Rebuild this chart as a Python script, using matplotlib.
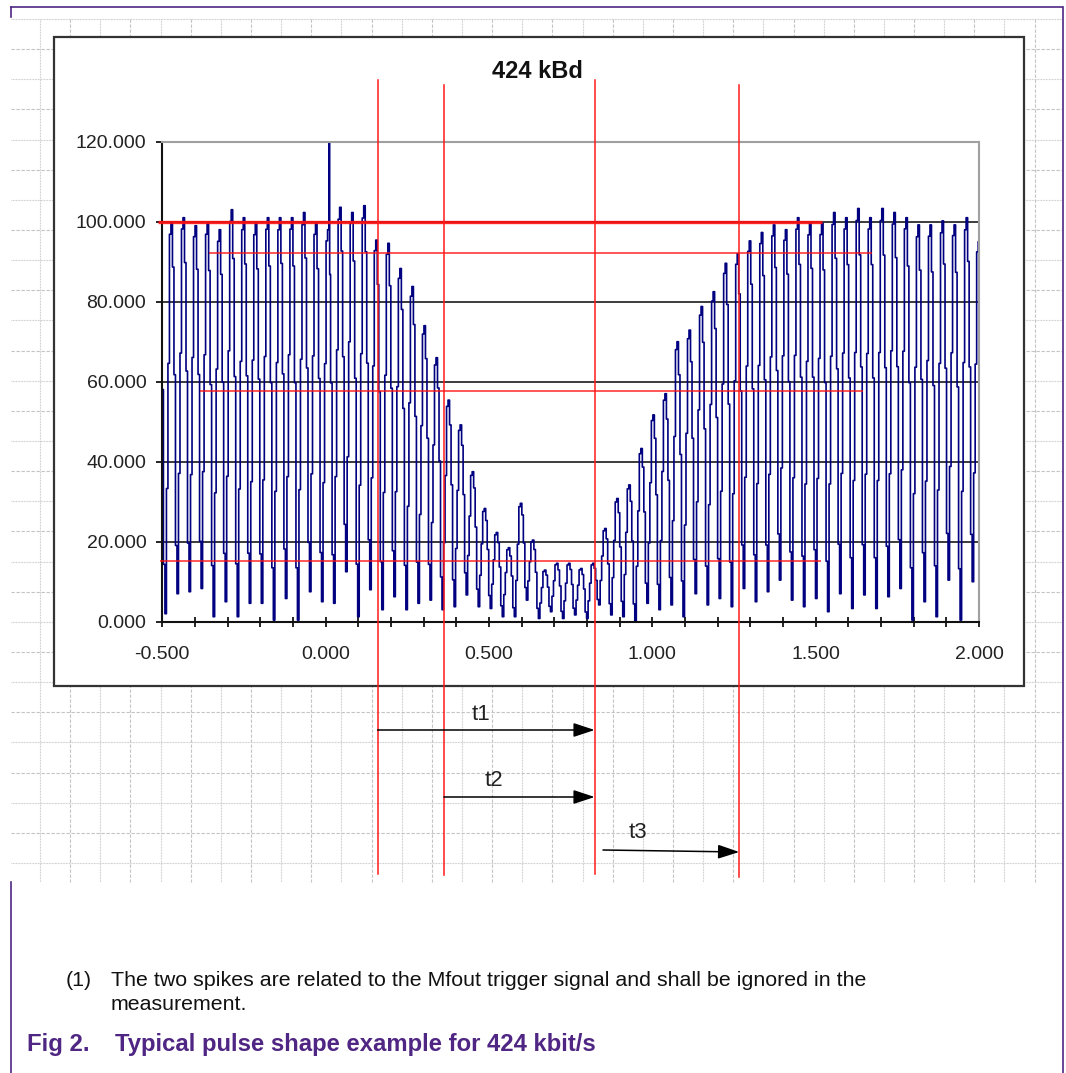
import numpy as np
import matplotlib
matplotlib.use("Agg")
import matplotlib.pyplot as plt
from matplotlib import transforms
from matplotlib.lines import Line2D
from matplotlib.patches import Rectangle, FancyArrowPatch
from matplotlib.ticker import MultipleLocator, FuncFormatter

plt.rcParams["font.family"] = ["Liberation Sans", "DejaVu Sans"]

W, H = 1066, 1073

# rectified 13.56 MHz carrier: one peak / one trough per half period
first_peak_t = -0.5081
period = 0.03688
peak_vals = [97.0, 99.8, 101.0, 99.0, 99.6, 98.0, 103.0, 101.0, 99.6, 101.0,
             101.0, 101.0, 102.3, 99.6, 98.0, 103.6, 102.3, 104.0, 95.4, 94.6,
             88.3, 83.8, 74.0, 66.0, 55.4, 49.2, 37.5, 28.3, 22.3, 18.5,
             29.6, 20.4, 12.9, 14.6, 14.6, 13.3, 14.6, 23.3, 30.8, 34.2,
             43.3, 51.7, 57.0, 70.0, 72.9, 78.8, 82.5, 89.6, 92.0, 95.2,
             97.3, 99.2, 98.0, 101.0, 99.6, 99.6, 102.3, 101.0, 103.3, 101.0,
             103.3, 102.3, 101.0, 99.2, 99.2, 100.2, 99.2, 101.0, 95.0]
trough_vals = [2.0, 7.0, 7.5, 8.3, 1.25, 5.0, 1.25, 4.6, 4.6, 0.4,
               5.8, 0.4, 7.5, 5.0, 4.6, 12.5, 1.25, 8.0, 3.0, 6.25,
               3.0, 4.6, 5.4, 3.0, 3.75, 6.7, 3.75, 3.3, 1.25, 1.25,
               5.4, 0.8, 2.5, 0.8, 1.7, 0.8, 4.2, 1.7, 1.25, 0.0,
               4.6, 3.0, 4.2, 1.25, 7.0, 4.2, 5.8, 3.75, 8.3, 5.0,
               7.5, 10.4, 5.4, 3.75, 5.8, 2.5, 7.0, 3.3, 6.7, 3.3,
               6.25, 8.3, 0.4, 5.0, 1.25, 10.4, 0.4, 10.0]
# sample levels within one period, as a fraction of peak-to-trough
cycle_profile = [1.0, 0.88, 0.59, 0.13, 0.0, 0.32, 0.64, 0.97]

# Mfout trigger spike
spike_t = [0.0118]
spike_v = [120.0]

# measurement levels (red horizontals)
level_vals = [100.0, 92.3, 57.7, 15.2]
level_start = [-0.513, -0.356, -0.385, -0.507]
level_end = [1.518, 1.671, 1.646, 1.516]

# timing markers (red verticals)
marker_t = [0.159, 0.362, 0.8235, 1.266]

yticks = [0, 20, 40, 60, 80, 100, 120]

# build the sampled trace
t_pts, v_pts = [], []
n = len(cycle_profile)
for i, trough in enumerate(trough_vals):
    tp = first_peak_t + i * period
    for j, f in enumerate(cycle_profile):
        top = peak_vals[i] if j <= n // 2 else peak_vals[i + 1]
        t_pts.append(tp + j * period / n)
        v_pts.append(trough + (top - trough) * f)
t_pts.append(first_peak_t + len(trough_vals) * period)
v_pts.append(peak_vals[-1])
t_pts = np.array(t_pts)
v_pts = np.array(v_pts)
for st, sv in zip(spike_t, spike_v):
    k = np.searchsorted(t_pts, st)
    t_pts = np.insert(t_pts, k, st)
    v_pts = np.insert(v_pts, k, sv)


def fx(px):
    return px / W


def fy(py):
    return 1 - py / H


fig = plt.figure(figsize=(W / 100, H / 100), dpi=100)

# sheet grid behind the chart
grid_col = "#c4c4c4"
for k in range(29):
    y = 19 + 30.14 * k
    ls = (0, (0.7, 0.7)) if k % 2 == 0 else (0, (3, 1.5))
    fig.add_artist(Line2D([fx(11), fx(1062)], [fy(y), fy(y)], color=grid_col,
                          lw=0.8, ls=ls, zorder=-3))
for k in range(34):
    x = 40 + 30.14 * k
    ls = (0, (0.7, 0.7)) if k % 2 == 0 else (0, (3, 1.5))
    fig.add_artist(Line2D([fx(x), fx(x)], [fy(19), fy(882)], color=grid_col,
                          lw=0.8, ls=ls, zorder=-3))

# page border
purple = "#4f2683"
for xs, ys in [([11, 1062], [7, 7]), ([11, 11], [7, 17]), ([11, 11], [882, 1073]),
               ([1063, 1063], [7, 1073])]:
    fig.add_artist(Line2D([fx(v) for v in xs], [fy(v) for v in ys],
                          color=purple, lw=1.2, zorder=-3))

# chart frame
fig.add_artist(Rectangle((fx(53.5), fy(686)), fx(1024.3 - 53.5), (686 - 36.7) / H,
                         facecolor="white", edgecolor="#333333", lw=1.6, zorder=-1))

ax = fig.add_axes([fx(162.3), fy(621.7), fx(979 - 162.3), (621.7 - 141.7) / H])
ax.set_xlim(-0.5, 2.0)
ax.set_ylim(0, 120)
ax.set_facecolor("white")

for lv in yticks[1:-1]:
    ax.axhline(lv, color="#1a1a1a", lw=1.2, zorder=1)

ax.plot(t_pts, v_pts, color="#000080", lw=1.2, drawstyle="steps-mid", zorder=2)

for lv, a, b in zip(level_vals, level_start, level_end):
    thick = 2.4 if lv == level_vals[0] else 1.1
    ax.plot([a, b], [lv, lv], color="#ff1010", lw=thick, alpha=0.9,
            solid_capstyle="butt", clip_on=False, zorder=3)

for side in ["left", "bottom"]:
    ax.spines[side].set_color("#111111")
    ax.spines[side].set_linewidth(1.5)
for side in ["top", "right"]:
    ax.spines[side].set_color("#a0a0a0")
    ax.spines[side].set_linewidth(1.5)

ax.set_yticks(yticks)
ax.yaxis.set_major_formatter(FuncFormatter(lambda v, p: f"{v:.3f}"))
ax.xaxis.set_major_locator(MultipleLocator(0.5))
ax.xaxis.set_minor_locator(MultipleLocator(0.1))
ax.xaxis.set_major_formatter(FuncFormatter(lambda v, p: f"{v:.3f}"))
ax.tick_params(axis="y", direction="out", length=4.5, width=1.2, pad=7,
               labelsize=14, labelcolor="#222222")
ax.tick_params(axis="x", which="both", direction="inout", length=7, width=1.2)
ax.tick_params(axis="x", which="major", pad=14, labelsize=14, labelcolor="#222222")

fig.text(fx(537), fy(72), "424 kBd", ha="center", va="center",
         fontsize=17, fontweight="bold", color="#111111")

# timing markers reach below the chart
blend = transforms.blended_transform_factory(ax.transData, fig.transFigure)
for t, top, bot in zip(marker_t, [80, 85, 80, 85], [874, 875, 874, 877]):
    fig.add_artist(Line2D([t, t], [fy(top), fy(bot)], transform=blend,
                          color="#ff1a1a", lw=1.1, zorder=10))

arrows = [(marker_t[0], marker_t[2], 730, 730, "t1", 481, 715),
          (marker_t[1], marker_t[2], 797, 797, "t2", 494, 781),
          (0.849, marker_t[3], 850, 852, "t3", 638, 832)]
for a, b, ya, yb, lab, lx, ly in arrows:
    fig.add_artist(FancyArrowPatch((a, fy(ya)), (b, fy(yb)), transform=blend,
                                   arrowstyle="-|>,head_length=13,head_width=4.3",
                                   mutation_scale=1, lw=1.1, color="black",
                                   shrinkA=0, shrinkB=0, zorder=11))
    fig.text(fx(lx), fy(ly), lab, ha="center", va="center", fontsize=16,
             color="#222222")

fig.text(fx(66), fy(981), "(1)", ha="left", va="center", fontsize=15.4, color="#111111")
fig.text(fx(111), fy(981),
         "The two spikes are related to the Mfout trigger signal and shall be ignored in the",
         ha="left", va="center", fontsize=15.4, color="#111111")
fig.text(fx(111), fy(1004), "measurement.", ha="left", va="center", fontsize=15.4,
         color="#111111")
fig.text(fx(27), fy(1045), "Fig 2.", ha="left", va="center", fontsize=17.2,
         fontweight="bold", color=purple)
fig.text(fx(115), fy(1045), "Typical pulse shape example for 424 kbit/s", ha="left",
         va="center", fontsize=17.2, fontweight="bold", color=purple)

fig.savefig("out.png", dpi=100)
